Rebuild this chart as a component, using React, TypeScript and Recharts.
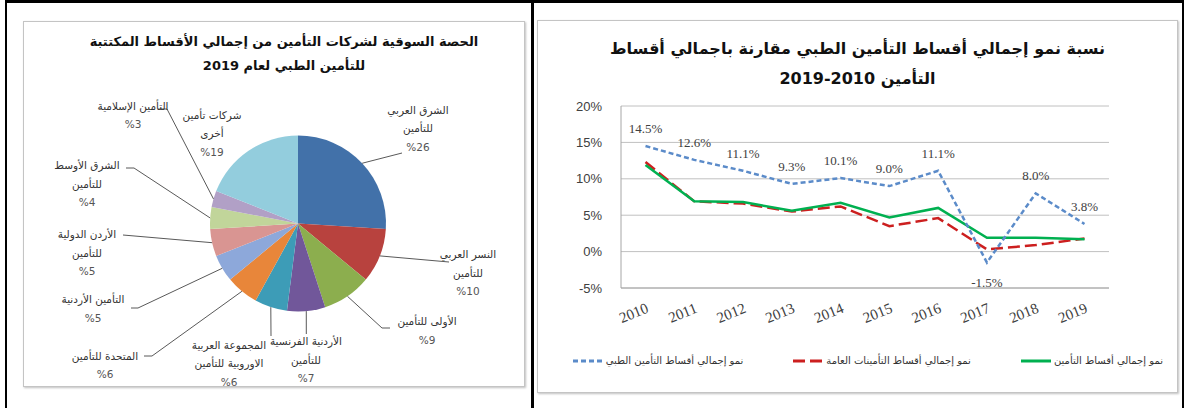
import { CartesianGrid, Cell, LabelList, Line, LineChart, Pie, PieChart, XAxis, YAxis } from "recharts"

// pie: market share of medical premiums 2019
const companyNames = [
  "الشرق العربي\nللتأمين",
  "النسر العربي\nللتأمين",
  "الأولى للتأمين",
  "الأردنية الفرنسية\nللتأمين",
  "المجموعة العربية\nالاوروبية للتأمين",
  "المتحدة للتأمين",
  "التأمين الأردنية",
  "الأردن الدولية\nللتأمين",
  "الشرق الأوسط\nللتأمين",
  "التأمين الإسلامية",
  "شركات تأمين\nأخرى",
]
const shares = [26, 10, 9, 7, 6, 6, 5, 5, 4, 3, 19]

// line chart: growth rates
const years = ["2010", "2011", "2012", "2013", "2014", "2015", "2016", "2017", "2018", "2019"]
const medicalGrowth = [14.5, 12.6, 11.1, 9.3, 10.1, 9.0, 11.1, -1.5, 8.0, 3.8]
const generalGrowth = [12.3, 6.9, 6.6, 5.5, 6.2, 3.5, 4.6, 0.3, 0.9, 1.8]
const totalGrowth = [11.9, 6.9, 6.8, 5.6, 6.7, 4.7, 6.0, 1.9, 1.9, 1.7]
const yTicks = [-5, 0, 5, 10, 15, 20]

const sliceColors = [
  "#4271a9", "#b8423e", "#8cae4e", "#71579a", "#3d9cb7", "#e8863a",
  "#8da8da", "#d99592", "#c1d59a", "#b1a0c6", "#93cddd",
]

// where each pie label sits, relative to the pie centre: text centre, first baseline, leader line bends
const labelSpots = [
  { tx: 120, ty: -110, line: [[104, -70.5]] },
  { tx: 170, ty: 34.5, line: [[151, 38.5]] },
  { tx: 129, ty: 101.5, line: [[84, 104.5], [92, 104.5]] },
  { tx: 8, ty: 121.5, line: [[8.3, 110.5]] },
  { tx: -69, ty: 125, line: [[-27, 112.5]] },
  { tx: -193, ty: 136, line: [[-146, 132.5], [-154, 132.5]] },
  { tx: -205, ty: 79.5, line: [[-160, 84.5], [-167, 84.5]] },
  { tx: -211, ty: 14.5, line: [[-175, 11.5]] },
  { tx: -211, ty: -54.5, line: [[-164, -55.5], [-172, -55.5]] },
  { tx: -165, ty: -114, line: [[-131, -114.5], [-140, -114.5]] },
  { tx: -86, ty: -105, line: [] as number[][] },
]

const RADIAN = Math.PI / 180
const arabicFont = "'DejaVu Sans', 'Liberation Sans', sans-serif"

function renderPieLabel(props: any) {
  const { cx, cy, midAngle, outerRadius, index, value } = props
  const spot = labelSpots[index]
  const sx = cx + outerRadius * Math.cos(-midAngle * RADIAN)
  const sy = cy + outerRadius * Math.sin(-midAngle * RADIAN)
  const pts = [[sx, sy], ...spot.line.map(([dx, dy]) => [cx + dx, cy + dy])]
  const lines = [...companyNames[index].split("\n"), `%${value}`]
  return (
    <g key={`lbl-${index}`}>
      {pts.length > 1 && (
        <polyline points={pts.map((p) => p.join(",")).join(" ")} fill="none" stroke="#595959" strokeWidth={1} />
      )}
      {lines.map((t, i) => (
        <text
          key={i}
          x={cx + spot.tx}
          y={cy + spot.ty + i * 18.5}
          textAnchor="middle"
          direction="rtl"
          fontFamily={arabicFont}
          fontSize={10.5}
          fill={i === lines.length - 1 ? "#555" : "#333"}
        >
          {t}
        </text>
      ))}
    </g>
  )
}

function YearTick({ x, y, payload }: any) {
  const ax = x + 4
  const ay = y + 22
  return (
    <text
      x={ax}
      y={ay}
      transform={`rotate(-22, ${ax}, ${ay})`}
      textAnchor="end"
      fontFamily="'Liberation Serif', serif"
      fontSize={15}
      fill="#404040"
    >
      {payload.value}
    </text>
  )
}

function renderMedicalLabel(props: any) {
  const { x, y, value, index } = props
  const below = value < 0
  return (
    <text
      key={`ml-${index}`}
      x={x}
      y={below ? y + 24 : y - 13}
      textAnchor="middle"
      fontFamily="'Liberation Serif', serif"
      fontSize={13}
      fill="#404040"
    >
      {`${Number(value).toFixed(1)}%`}
    </text>
  )
}

const legendItems = [
  { name: "نمو إجمالي أقساط التأمين", color: "#00b050", dash: "" },
  { name: "نمو إجمالي أقساط التأمينات العامة", color: "#cc1f1f", dash: "12 5" },
  { name: "نمو إجمالي أقساط التأمين الطبي", color: "#5b8bc9", dash: "5 3" },
]

const frame = {
  position: "absolute" as const,
  border: "1px solid #c4c4c4",
  boxShadow: "1px 1px 2px rgba(0,0,0,0.25)",
  background: "#fff",
}

export default function App() {
  const pieData = companyNames.map((name, i) => ({ name, value: shares[i] }))
  const lineData = years.map((year, i) => ({
    year,
    medical: medicalGrowth[i],
    general: generalGrowth[i],
    total: totalGrowth[i],
  }))

  return (
    <div style={{ position: "absolute", left: 0, top: 0, width: 1184, height: 408, background: "#fff", overflow: "hidden" }}>
      {/* table rules */}
      <div style={{ position: "absolute", left: 5, top: 0, width: 1179, height: 3, background: "#000" }} />
      <div style={{ position: "absolute", left: 5, top: 0, width: 2, height: 408, background: "#000" }} />
      <div style={{ position: "absolute", left: 531, top: 0, width: 3, height: 408, background: "#000" }} />
      <div style={{ position: "absolute", left: 1182, top: 0, width: 2, height: 408, background: "#000" }} />

      {/* left: pie */}
      <div style={{ ...frame, left: 23, top: 21, width: 500, height: 364 }}>
        <div
          style={{
            position: "absolute", left: 0, top: 8, width: 520, textAlign: "center", direction: "rtl",
            fontFamily: arabicFont, fontWeight: "bold", fontSize: 13, lineHeight: "24px", color: "#111",
          }}
        >
          <div>الحصة السوقية لشركات التأمين من إجمالي الأقساط المكتتبة</div>
          <div>للتأمين الطبي لعام 2019</div>
        </div>
        <div style={{ position: "absolute", left: 0, top: 0 }}>
          <PieChart width={500} height={364} style={{ overflow: "visible" }}>
            <Pie
              data={pieData}
              dataKey="value"
              cx={269}
              cy={196.5}
              outerRadius={88}
              startAngle={90}
              endAngle={-270}
              stroke="none"
              label={renderPieLabel}
              labelLine={false}
              isAnimationActive={false}
            >
              {pieData.map((d, i) => (
                <Cell key={d.name} fill={sliceColors[i]} />
              ))}
            </Pie>
          </PieChart>
        </div>
      </div>

      {/* right: growth lines */}
      <div style={{ ...frame, left: 537, top: 20, width: 639, height: 371 }}>
        <div
          style={{
            position: "absolute", left: 0, top: 13, width: 639, textAlign: "center", direction: "rtl",
            fontFamily: arabicFont, fontWeight: "bold", fontSize: 16, lineHeight: "30px", color: "#111",
          }}
        >
          <div>نسبة نمو إجمالي أقساط التأمين الطبي مقارنة باجمالي أقساط</div>
          <div>
            التأمين <span dir="ltr" style={{ unicodeBidi: "isolate" }}>2019-2010</span>
          </div>
        </div>
        <div style={{ position: "absolute", left: 0, top: 0 }}>
          <LineChart width={639} height={371} data={lineData} margin={{ top: 85, right: 68, left: 0, bottom: 0 }}>
            <CartesianGrid vertical={false} stroke="#c0c0c0" />
            <XAxis
              dataKey="year"
              padding={{ left: 24.5, right: 24.5 }}
              axisLine={{ stroke: "#a6a6a6" }}
              tickLine={false}
              tickSize={0}
              height={104}
              interval={0}
              tick={<YearTick />}
            />
            <YAxis
              width={83}
              domain={[-5, 20]}
              ticks={yTicks}
              tickFormatter={(v) => `${v}%`}
              axisLine={{ stroke: "#a6a6a6" }}
              tickLine={false}
              tickSize={0}
              tickMargin={19}
              tick={{ fontFamily: "'Liberation Sans', Arial, sans-serif", fontSize: 13, fill: "#404040" }}
            />
            <Line dataKey="general" stroke="#cc1f1f" strokeWidth={2.5} strokeDasharray="12 5" dot={false} isAnimationActive={false} />
            <Line dataKey="total" stroke="#00b050" strokeWidth={2.5} dot={false} isAnimationActive={false} />
            <Line dataKey="medical" stroke="#5b8bc9" strokeWidth={2.5} strokeDasharray="5 3" dot={false} isAnimationActive={false}>
              <LabelList dataKey="medical" content={renderMedicalLabel} />
            </Line>
          </LineChart>
        </div>
        <div
          style={{
            position: "absolute", right: 14, top: 334, display: "flex", direction: "rtl", gap: 50,
            fontFamily: arabicFont, fontSize: 10, color: "#333", alignItems: "center",
          }}
        >
          {legendItems.map((it) => (
            <div key={it.name} style={{ display: "flex", alignItems: "center", gap: 3 }}>
              <span>{it.name}</span>
              <svg width={30} height={6}>
                <line x1={0} y1={3} x2={30} y2={3} stroke={it.color} strokeWidth={3} strokeDasharray={it.dash} />
              </svg>
            </div>
          ))}
        </div>
      </div>
    </div>
  )
}
